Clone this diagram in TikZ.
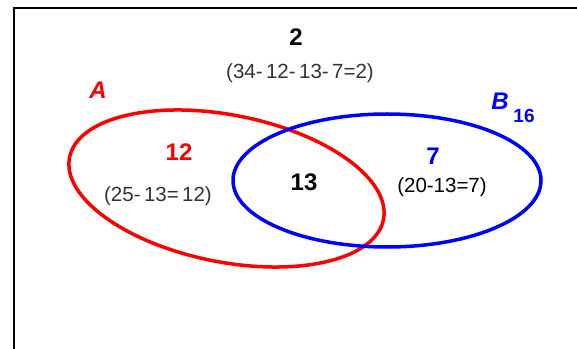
\documentclass[tikz,border=0pt]{standalone}
\usepackage{fontspec}
\setmainfont{Liberation Sans}
\begin{document}
\begin{tikzpicture}[x=1pt,y=1pt,
  setline/.style={line width=3.5pt},
  bignum/.style={font=\fontsize{24}{26}\selectfont\bfseries, inner sep=0pt},
  formula/.style={font=\fontsize{20.5}{23}\selectfont, inner sep=0pt, text=black!80},
  setname/.style={font=\fontsize{24}{26}\selectfont\bfseries\itshape, inner sep=0pt}]
\useasboundingbox (0,0) rectangle (577,348);
\clip (0,0) rectangle (577,348);
% frame
\draw[line width=2.5pt] (14,-20) -- (14,340) -- (600,340);
% sets
\draw[setline, red] (226.5,159.5) ellipse[x radius=160, y radius=73.5, rotate=-11.2];
\draw[setline, blue] (387,167.5) ellipse[x radius=154, y radius=66.5];
% labels
\node[bignum] (outside) at (296,311) {2};
\node[formula] (outsidef) at (300,275) {(34-\,12-\,13-\,7=2)};
\node[setname, text=red] (setA) at (98,258) {A};
\node[setname, text=blue] (setB) at (500,247) {B};
\node[font=\fontsize{19}{21}\selectfont\bfseries, text=blue, inner sep=0pt] (setBn) at (524,232) {16};
\node[bignum, text=red] (onlyA) at (179,196) {12};
\node[formula] (onlyAf) at (158,152) {(25-\,13=\,12)};
\node[bignum] (both) at (304,166) {13};
\node[bignum, text=blue] (onlyB) at (433,192) {7};
\node[formula, text=black] (onlyBf) at (442,161) {(20-13=7)};
\end{tikzpicture}
\end{document}
